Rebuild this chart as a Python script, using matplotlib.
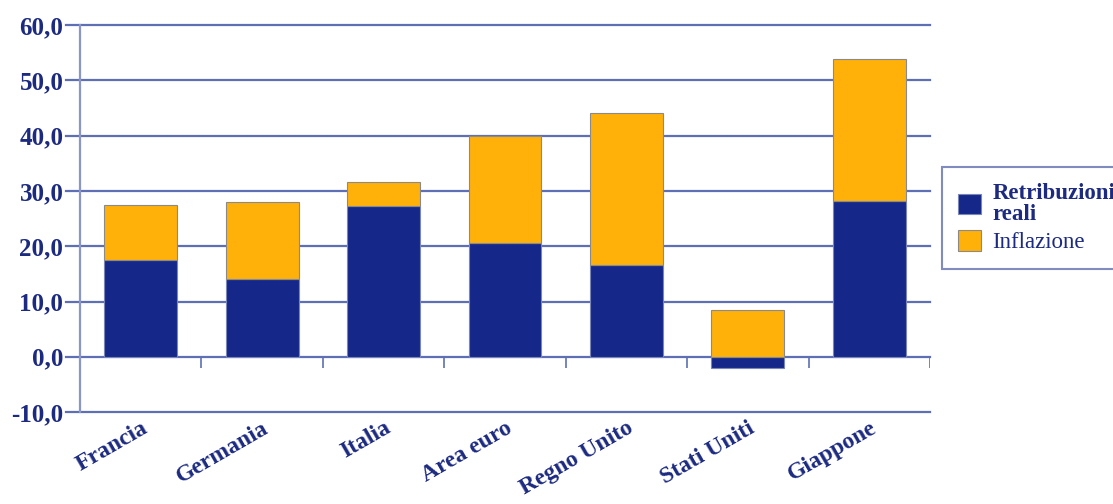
import matplotlib
matplotlib.use("Agg")
import matplotlib.pyplot as plt
import numpy as np

# data
paesi = ["Francia", "Germania", "Italia", "Area euro", "Regno Unito", "Stati Uniti", "Giappone"]
retribuzioni_reali = [17.5, 14.1, 27.3, 20.6, 16.6, -2.0, 28.2]
inflazione = [10.0, 13.9, 4.3, 19.4, 27.5, 8.5, 25.7]
yticks = [-10, 0, 10, 20, 30, 40, 50, 60]

BLU = "#15288a"
ARANCIO = "#ffb10a"
TESTO = "#1c2a80"
GRIGLIA = "#5f6fb5"

plt.rcParams["font.family"] = ["Liberation Serif", "DejaVu Serif"]
plt.rcParams["font.weight"] = "bold"

fig = plt.figure(figsize=(11.13, 5.04), dpi=100)
ax = fig.add_axes([0.0719, 0.1825, 0.7637, 0.7675])

x = np.arange(len(paesi))
reali = np.array(retribuzioni_reali)
infl = np.array(inflazione)
base_infl = np.where(reali > 0, reali, 0)

b1 = ax.bar(x, reali, width=0.6, color=BLU, edgecolor="#7a86b8", linewidth=0.8,
            label="Retribuzioni\nreali", zorder=3)
b2 = ax.bar(x, infl, bottom=base_infl, width=0.6, color=ARANCIO, edgecolor="#8a8a8a",
            linewidth=0.8, label="Inflazione", zorder=3)

ax.set_xlim(-0.5, len(paesi) - 0.5)
ax.set_ylim(-10, 60)
ax.set_yticks(yticks)
ax.set_yticklabels([f"{v:.1f}".replace(".", ",") for v in yticks],
                   fontsize=18, color=TESTO, fontweight="bold")
ax.tick_params(axis="y", length=0, pad=12)
for v in yticks:
    ax.axhline(v, xmin=-0.016, xmax=1.0, color=GRIGLIA, linewidth=1.6, zorder=1, clip_on=False)

# category separators hanging below the zero line
bordi = np.arange(len(paesi) + 1) - 0.5
ax.vlines(bordi[1:], -2.0, 0, color=GRIGLIA, linewidth=1.2, zorder=2)

ax.set_xticks(x)
ax.set_xticklabels(paesi, rotation=30, ha="right", rotation_mode="anchor",
                   fontsize=17, color=TESTO, fontweight="bold")
ax.tick_params(axis="x", length=0, pad=4)

for s in ["top", "right", "bottom"]:
    ax.spines[s].set_visible(False)
ax.spines["left"].set_color("#8a96c8")
ax.spines["left"].set_linewidth(1.6)

leg = fig.legend(handles=[b1, b2], loc="upper left", bbox_to_anchor=(0.8464, 0.668),
                 borderaxespad=0, frameon=True, fancybox=False, handlelength=1.0,
                 handleheight=1.0, handletextpad=0.5, borderpad=0.7, labelspacing=0.25,
                 prop={"weight": "bold", "size": 16.5})
leg.get_frame().set_edgecolor("#6070b0")
leg.get_frame().set_linewidth(1.5)
for t in leg.get_texts():
    t.set_color(TESTO)
    t.set_linespacing(0.95)
leg.get_texts()[1].set_fontweight("normal")

fig.savefig("out.png", dpi=100)
